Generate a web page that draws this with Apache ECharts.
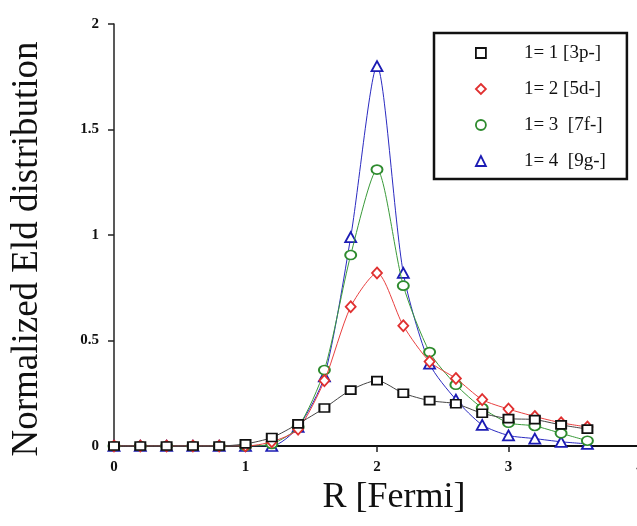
<!DOCTYPE html>
<html>
<head>
<meta charset="utf-8">
<script src="https://cdn.jsdelivr.net/npm/echarts@6/dist/echarts.min.js"></script>
<style>html,body{margin:0;padding:0;background:#fff}#c{width:637px;height:526px}</style>
</head>
<body>
<div id="c"></div>
<script>
var R = [0,0.2,0.4,0.6,0.8,1.0,1.2,1.4,1.6,1.8,2.0,2.2,2.4,2.6,2.8,3.0,3.2,3.4,3.6];
var l1 = [0,0,0,0,0,0.01,0.04,0.105,0.18,0.265,0.31,0.25,0.215,0.2,0.155,0.13,0.125,0.1,0.08];
var l2 = [0,0,0,0,0,0,0.02,0.08,0.31,0.66,0.82,0.57,0.40,0.32,0.22,0.175,0.14,0.11,0.09];
var l3 = [0,0,0,0,0,0,0.01,0.09,0.36,0.905,1.31,0.76,0.445,0.29,0.18,0.11,0.095,0.06,0.025];
var l4 = [0,0,0,0,0,0,0,0.09,0.33,0.99,1.80,0.82,0.39,0.22,0.10,0.05,0.035,0.02,0.01];
var names = ['1= 1 [3p-]','1= 2 [5d-]','1= 3  [7f-]','1= 4  [9g-]'];
var colors = ['#111111','#e03030','#2e8b2e','#1c1cb4'];
var lineColors = ['#444444','#e84040','#3a9a3a','#2a2ac0'];
var symbols = ['rect','diamond','circle','triangle'];
var sizes = [[10,8],[10,11],[11,9],[11,10]];
var ys = [l1,l2,l3,l4];

function pairs(a){ return R.map(function(x,i){ return [x,a[i]]; }); }

var serif = '"Liberation Serif","DejaVu Serif",serif';
var series = ys.map(function(a,k){
  return {
    name: names[k], type: 'line', data: pairs(a), smooth: 0.25,
    symbol: symbols[k], symbolSize: sizes[k], z: 10 - k,
    lineStyle: {color: lineColors[k], width: 1},
    itemStyle: {color: '#fff', borderColor: colors[k], borderWidth: 1.8}
  };
});

var chart = echarts.init(document.getElementById('c'), null, {renderer:'canvas'});
chart.setOption({
  animation: false,
  backgroundColor: '#fff',
  grid: {left: 114, top: 24, width: 526, bottom: 80, containLabel: false, outerBoundsMode: 'none'},
  xAxis: [{
    type: 'value', min: 0, max: 4, interval: 1,
    axisLine: {show: true, onZero: false, lineStyle: {color: '#8a8a8a', width: 2}},
    axisTick: {show: true, length: 6, lineStyle: {color: '#222', width: 1.5}},
    axisLabel: {color: '#111', fontFamily: serif, fontWeight: 'bold', fontSize: 15, margin: 14},
    splitLine: {show: false},
    name: 'R [Fermi]', nameLocation: 'middle', nameGap: 30,
    nameTextStyle: {fontFamily: serif, fontSize: 36, color: '#111', padding: [0,0,0,34]}
  },{
    type: 'value', min: 0, max: 4, position: 'top',
    axisLine: {show: true, lineStyle: {color: '#111', width: 2}},
    axisTick: {show: false}, axisLabel: {show: false}, splitLine: {show: false}
  }],
  yAxis: {
    type: 'value', min: 0, max: 2, interval: 0.5,
    axisLine: {show: true, lineStyle: {color: '#222', width: 1.5}},
    axisTick: {show: true, length: 6, lineStyle: {color: '#222', width: 1.5}},
    axisLabel: {color: '#111', fontFamily: serif, fontWeight: 'bold', fontSize: 15, margin: 15},
    splitLine: {show: false},
    name: 'Normalized Eld distribution', nameLocation: 'middle', nameGap: 68,
    nameTextStyle: {fontFamily: serif, fontSize: 37, color: '#111', padding: [0,28,0,0]}
  },
  legend: {
    orient: 'vertical', left: 434, top: 33,
    backgroundColor: '#fff', borderColor: '#111', borderWidth: 2.5,
    padding: [10, 13, 8, 41], itemGap: 16, itemWidth: 10, itemHeight: 10,
    textStyle: {fontFamily: serif, fontSize: 19, color: '#111', lineHeight: 20, width: 90, padding: [0,0,0,33]},
    data: names.map(function(n,k){
      return {name: n, icon: symbols[k],
        itemStyle: {color: '#fff', borderColor: colors[k], borderWidth: 1.8}};
    })
  },
  series: series
});
</script>
</body>
</html>
